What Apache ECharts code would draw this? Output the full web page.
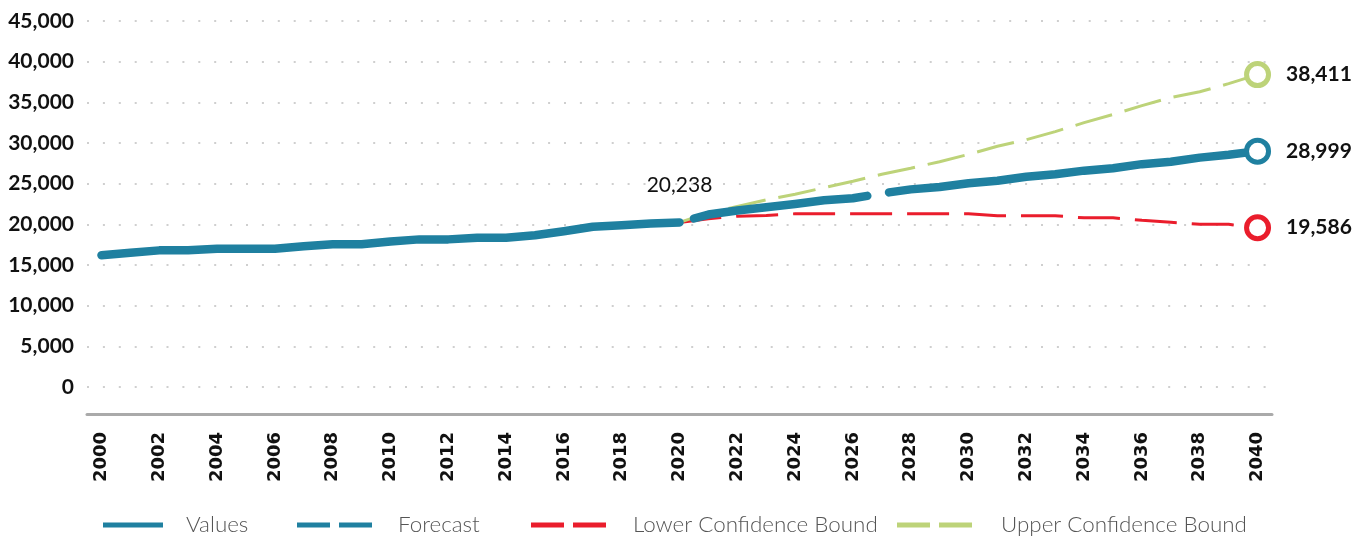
<!DOCTYPE html>
<html>
<head>
<meta charset="utf-8">
<script src="https://cdn.jsdelivr.net/npm/echarts@6/dist/echarts.min.js"></script>
<style>
    html, body { margin: 0; padding: 0; background: #fff; }
    .forecast-chart { width: 1367px; height: 538px; }
</style>
</head>
<body>
<div class="forecast-chart"></div>
<script>
let years = ['2000', '2001', '2002', '2003', '2004', '2005', '2006', '2007', '2008', '2009',
    '2010', '2011', '2012', '2013', '2014', '2015', '2016', '2017', '2018', '2019',
    '2020', '2021', '2022', '2023', '2024', '2025', '2026', '2027', '2028', '2029',
    '2030', '2031', '2032', '2033', '2034', '2035', '2036', '2037', '2038', '2039', '2040'];

// 2000 - 2020
let values = [16200, 16500, 16800, 16800, 17000, 17000, 17000, 17300, 17550, 17550,
    17900, 18150, 18150, 18350, 18350, 18650, 19150, 19700, 19900, 20100, 20238];

// 2020 - 2040
let forecast = [20238, 21200, 21700, 22100, 22500, 22950, 23200, 23800, 24300, 24600,
    25050, 25350, 25850, 26150, 26600, 26900, 27400, 27700, 28200, 28550, 28999];
let lowerBound = [20238, 20700, 21000, 21100, 21300, 21300, 21300, 21300, 21300, 21300,
    21300, 21050, 21050, 21050, 20800, 20800, 20500, 20250, 20000, 20000, 19586];
let upperBound = [20238, 21400, 22200, 23000, 23700, 24500, 25300, 26150, 26900, 27700,
    28600, 29600, 30400, 31400, 32500, 33500, 34600, 35600, 36300, 37300, 38411];

let yTicks = { min: 0, max: 45000, interval: 5000 };

const colors = {
    teal: '#1f80a0',
    red: '#ea1d2c',
    green: '#bdd379',
    grid: '#cfcfcf',
    axis: '#aaaaaa',
    text: '#111111',
    legend: '#555555'
};

function fmt(v) {
    return v.toLocaleString('en-US');
}

function InitForecastChart() {
    let $chartEl = document.querySelector('.forecast-chart');
    if (!$chartEl) return;

    let chart = window.echarts.init($chartEl, null, { renderer: 'canvas' });
    let pad = years.length - forecast.length; // forecast series starts at 2020

    let numLabel = {
        color: colors.text,
        fontFamily: 'Lato',
        fontWeight: 'bold',
        fontSize: 21
    };

    // last point of a projected series gets the open circle and its label
    let endPoint = function (v, color) {
        return {
            value: v,
            symbol: 'circle',
            symbolSize: 22,
            itemStyle: { color: '#fff', borderColor: color, borderWidth: 5 },
            label: Object.assign({
                show: true,
                position: 'right',
                distance: 15,
                formatter: fmt(v)
            }, numLabel)
        };
    };

    let projected = function (arr, color) {
        let out = new Array(pad).fill('-');
        arr.forEach(function (v, i) {
            out.push(i === arr.length - 1 ? endPoint(v, color) : v);
        });
        return out;
    };

    let valuesData = values.map(function (v, i) {
        if (i !== values.length - 1) return v;
        return {
            value: v,
            symbol: 'circle',
            symbolSize: 1,
            itemStyle: { color: 'transparent' },
            label: Object.assign({
                show: true,
                position: 'top',
                distance: 26,
                formatter: fmt(v)
            }, numLabel, { fontWeight: 'normal' })
        };
    });

    let legendItem = function (name, left, width, icon, gap) {
        return {
            data: [name],
            left: left,
            top: 514,
            padding: 0,
            icon: icon,
            itemWidth: width,
            itemHeight: 5,
            selectedMode: false,
            textStyle: {
                color: colors.legend,
                fontFamily: 'Lato',
                fontWeight: 300,
                fontSize: 22.4,
                padding: [0, 0, 0, gap]
            }
        };
    };
    let dashIcon = 'path://M0,0H33V5H0Z M42,0H75V5H42Z';

    let lineBase = {
        type: 'line',
        symbol: 'none',
        showSymbol: true,
        showAllSymbol: true,
        silent: true,
        animation: false,
        emphasis: { disabled: true }
    };

    let getDefaultOptions = function getDefaultOptions() {
        return {
            animation: false,
            grid: {
                left: 87,
                right: 95,
                top: 21,
                bottom: 151,
                containLabel: false
            },
            legend: [
                legendItem('Values', 103, 60, 'rect', 18),
                legendItem('Forecast', 297, 75, dashIcon, 21),
                legendItem('Lower Confidence Bound', 531, 75, dashIcon, 22),
                legendItem('Upper Confidence Bound', 897, 75, dashIcon, 24)
            ],
            xAxis: {
                type: 'category',
                data: years,
                boundaryGap: true,
                offset: 27,
                axisLine: {
                    show: true,
                    onZero: false,
                    lineStyle: { color: colors.axis, width: 3 }
                },
                axisTick: { show: false },
                splitLine: { show: false },
                axisLabel: {
                    interval: 1,
                    rotate: 90,
                    margin: 18,
                    color: colors.text,
                    fontFamily: 'DejaVu Sans',
                    fontWeight: 'bold',
                    fontSize: 18
                }
            },
            yAxis: {
                type: 'value',
                min: yTicks.min,
                max: yTicks.max,
                interval: yTicks.interval,
                axisLine: { show: false },
                axisTick: { show: false },
                splitLine: {
                    show: true,
                    lineStyle: { color: colors.grid, width: 2, type: [2, 13.9] }
                },
                axisLabel: Object.assign({
                    margin: 13,
                    formatter: function (v) { return fmt(v); }
                }, numLabel)
            },
            series: [
                Object.assign({}, lineBase, {
                    name: 'Lower Confidence Bound',
                    color: colors.red,
                    z: 2,
                    lineStyle: { color: colors.red, width: 3, type: [42, 15] },
                    data: projected(lowerBound, colors.red)
                }),
                Object.assign({}, lineBase, {
                    name: 'Upper Confidence Bound',
                    color: colors.green,
                    z: 2,
                    lineStyle: { color: colors.green, width: 3, type: [38, 13] },
                    data: projected(upperBound, colors.green)
                }),
                Object.assign({}, lineBase, {
                    name: 'Values',
                    color: colors.teal,
                    z: 3,
                    lineStyle: { color: colors.teal, width: 8.5, cap: 'round', join: 'round' },
                    data: valuesData
                }),
                Object.assign({}, lineBase, {
                    name: 'Forecast',
                    color: colors.teal,
                    z: 4,
                    // long dashes: short gap at 2020, one break near 2027
                    lineStyle: {
                        color: colors.teal,
                        width: 8.5,
                        cap: 'round',
                        join: 'round',
                        type: [1000, 15, 175, 22],
                        dashOffset: 1000
                    },
                    data: projected(forecast, colors.teal)
                })
            ]
        };
    };

    chart.setOption(getDefaultOptions());
}

InitForecastChart();
</script>
</body>
</html>
